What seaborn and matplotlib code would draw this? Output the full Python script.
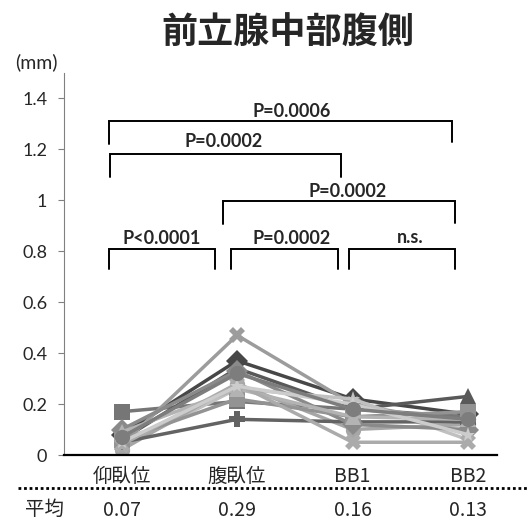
import pandas as pd
import matplotlib.pyplot as plt
import seaborn as sns
from matplotlib.lines import Line2D

# positions and per-subject thickness values (mm)
positions = ['仰臥位', '腹臥位', 'BB1', 'BB2']
subjects = ['s1', 's2', 's3', 's4', 's5', 's6', 's7', 's8', 's9', 's10', 's11', 's12', 's13']
supine = [0.08, 0.17, 0.06, 0.04, 0.03, 0.02, 0.05, 0.10, 0.06, 0.09, 0.04, 0.05, 0.07]
prone = [0.37, 0.21, 0.34, 0.47, 0.26, 0.28, 0.14, 0.33, 0.22, 0.26, 0.28, 0.27, 0.32]
bb1 = [0.22, 0.18, 0.18, 0.20, 0.22, 0.10, 0.13, 0.12, 0.15, 0.15, 0.05, 0.20, 0.18]
bb2 = [0.16, 0.15, 0.23, 0.12, 0.06, 0.12, 0.13, 0.10, 0.17, 0.14, 0.05, 0.08, 0.14]
means = ['0.07', '0.29', '0.16', '0.13']

# significance brackets: (x_left, x_right, y_top, y_left_end, y_right_end, label, text_x, text_y)
brackets = [
    (-0.11, 2.86, 1.31, 1.22, 1.23, 'P=0.0006', 1.47, 1.35),
    (-0.10, 1.90, 1.18, 1.09, 1.09, 'P=0.0002', 0.88, 1.23),
    (0.88, 2.89, 0.995, 0.905, 0.91, 'P=0.0002', 1.96, 1.035),
    (-0.11, 0.81, 0.81, 0.73, 0.73, 'P<0.0001', 0.35, 0.85),
    (0.945, 1.87, 0.81, 0.73, 0.73, 'P=0.0002', 1.47, 0.85),
    (1.97, 2.89, 0.81, 0.73, 0.73, 'n.s.', 2.50, 0.855),
]

colors = ['#474747', '#767676', '#595959', '#9c9c9c', '#c0c0c0', '#a6a6a6', '#636363',
          '#8a8a8a', '#939393', '#b3b3b3', '#ababab', '#cccccc', '#7d7d7d']
markers = ['D', 's', '^', 'X', '*', 'o', 'P', 'D', 's', '^', 'X', '*', 'o']

rows = []
for i, s in enumerate(subjects):
    for j, v in enumerate([supine[i], prone[i], bb1[i], bb2[i]]):
        rows.append({'subject': s, 'pos': j, 'value': v})
df = pd.DataFrame(rows)

sns.set_style('white')
plt.rcParams['font.family'] = ['Lato', 'Noto Sans CJK JP', 'DejaVu Sans']
cjk = ['Noto Sans CJK JP', 'DejaVu Sans']

fig = plt.figure(figsize=(5.28, 5.20), dpi=100)
ax = fig.add_axes([0.121, 0.125, 0.82, 0.735])

sns.lineplot(data=df, x='pos', y='value', hue='subject', style='subject',
             palette=colors, markers=markers, dashes=False, lw=2.5,
             markersize=11, markeredgewidth=0, legend=False, sort=False, ax=ax)

for xl, xr, yt, yl, yr, lab, tx, ty in brackets:
    ax.plot([xl, xl, xr, xr], [yl, yt, yt, yr], color='black', lw=1.4, solid_joinstyle='miter')
    ax.text(tx, ty, lab, ha='center', va='center', fontsize=13, fontweight='bold')

ax.set_xlim(-0.5, 3.25)
ax.set_ylim(0, 1.5)
ax.set_yticks([0, 0.2, 0.4, 0.6, 0.8, 1.0, 1.2, 1.4])
ax.set_yticklabels(['0', '0.2', '0.4', '0.6', '0.8', '1', '1.2', '1.4'])
ax.set_xticks(range(4))
ax.set_xticklabels(positions, family=cjk)
ax.tick_params(axis='x', length=0, pad=8, labelsize=14)
ax.tick_params(axis='y', length=4, width=0.8, color='#808080', left=True, labelsize=13, pad=8)
ax.set_xlabel('')
ax.set_ylabel('')
sns.despine(ax=ax)
ax.spines['left'].set_color('#808080')
ax.spines['bottom'].set_color('black')
ax.spines['bottom'].set_linewidth(1.6)

# mean row under the axis
fig.add_artist(Line2D([0.035, 1.0], [0.0615, 0.0615], color='black', lw=2, ls=(0, (1, 1))))
fig.text(0.085, 0.02, '平均', ha='center', va='center', fontsize=14, family=cjk)
trans = ax.get_xaxis_transform()
for j, m in enumerate(means):
    ax.text(j, -0.144, m, ha='center', va='center', fontsize=14, transform=trans, family=cjk)

fig.text(0.068, 0.881, '(mm)', ha='center', va='center', fontsize=14)
fig.text(0.546, 0.936, '前立腺中部腹側', ha='center', va='center', fontsize=26,
         fontweight='bold', family=cjk)

fig.savefig('out.png', dpi=100)
